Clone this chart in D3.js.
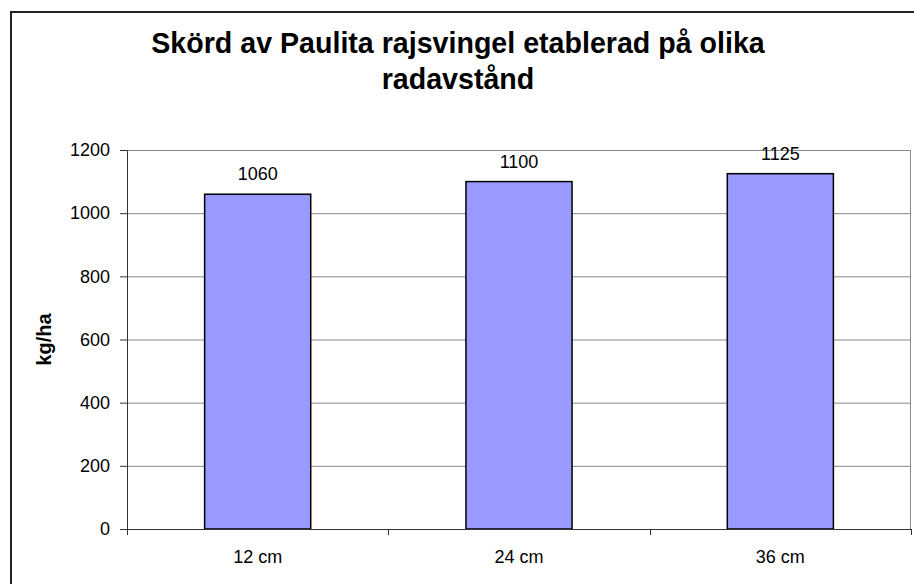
<!DOCTYPE html>
<html>
<head>
<meta charset="utf-8">
<script src="https://cdn.jsdelivr.net/npm/d3@7"></script>
<style>
  body { margin: 0; background: #fff; }
  svg { display: block; font-family: "Liberation Sans", Arial, sans-serif; }
</style>
</head>
<body>
<svg width="914" height="584"></svg>
<script>
// data
var categories = ["12 cm", "24 cm", "36 cm"];
var yieldValues = [1060, 1100, 1125];
var yTicks = [0, 200, 400, 600, 800, 1000, 1200];
var titleLines = ["Skörd av Paulita rajsvingel etablerad på olika", "radavstånd"];
var yTitle = "kg/ha";

var svg = d3.select("svg");
var margin = { top: 150, right: 3, bottom: 55, left: 127 };
var width = +svg.attr("width") - margin.left - margin.right;
var height = +svg.attr("height") - margin.top - margin.bottom;

// outer chart frame (runs off the right and bottom edge)
svg.append("rect")
    .attr("x", 11)
    .attr("y", 12)
    .attr("width", 1000)
    .attr("height", 1000)
    .attr("fill", "none")
    .attr("stroke", "#222")
    .attr("stroke-width", 2);

svg.append("text")
    .attr("x", 458)
    .attr("y", 53)
    .attr("text-anchor", "middle")
    .style("font-size", "28.6px")
    .style("font-weight", "bold")
    .selectAll("tspan")
    .data(titleLines)
    .enter().append("tspan")
    .attr("x", 458)
    .attr("dy", function (d, i) { return i == 0 ? 0 : 36; })
    .text(function (d) { return d; });

var x = d3.scaleBand()
    .range([0, width])
    .paddingInner(0.594)
    .paddingOuter(0.297)
    .domain(categories);

var y = d3.scaleLinear()
    .range([height, 0])
    .domain([0, 1200]);

var g = svg.append("g")
    .attr("transform", "translate(" + margin.left + "," + margin.top + ")");

// gridlines
g.selectAll("line.grid")
    .data(yTicks.slice(1))
    .enter().append("line")
    .attr("class", "grid")
    .attr("x1", 0)
    .attr("x2", width)
    .attr("y1", function (d) { return y(d) + 0.5; })
    .attr("y2", function (d) { return y(d) + 0.5; })
    .attr("stroke", "#888")
    .attr("stroke-width", 1);

// right edge of plot area
g.append("line")
    .attr("x1", width - 0.5)
    .attr("x2", width - 0.5)
    .attr("y1", y(1200))
    .attr("y2", height)
    .attr("stroke", "#888");

g.selectAll("rect.bar")
    .data(yieldValues)
    .enter().append("rect")
    .attr("class", "bar")
    .attr("x", function (d, i) { return x(categories[i]); })
    .attr("y", function (d) { return y(d); })
    .attr("width", x.bandwidth())
    .attr("height", function (d) { return height - y(d); })
    .attr("fill", "#9999ff")
    .attr("stroke", "#000")
    .attr("stroke-width", 1.5);

g.selectAll("text.val")
    .data(yieldValues)
    .enter().append("text")
    .attr("class", "val")
    .attr("x", function (d, i) { return x(categories[i]) + x.bandwidth() / 2; })
    .attr("y", function (d) { return y(d) - 14; })
    .attr("text-anchor", "middle")
    .style("font-size", "18px")
    .text(function (d) { return d; });

var yAxis = g.append("g")
    .attr("class", "axis axis-y")
    .call(d3.axisLeft(y).tickValues(yTicks).tickFormat(d3.format("d"))
        .tickSize(7).tickSizeOuter(0).tickPadding(10));
yAxis.select(".domain").attr("stroke", "#333");
yAxis.selectAll(".tick line").attr("stroke", "#333");
yAxis.selectAll("text").style("font-size", "18px").attr("fill", "#000");
yAxis.attr("font-family", null);

var xAxis = g.append("g")
    .attr("class", "axis axis-x")
    .attr("transform", "translate(0," + height + ")")
    .call(d3.axisBottom(x).tickSize(0).tickSizeOuter(0).tickPadding(21));
xAxis.select(".domain").attr("stroke", "#333");
xAxis.selectAll("text").style("font-size", "18px").attr("fill", "#000");
xAxis.attr("font-family", null);

// tick marks sit between the categories
var boundaries = categories.map(function (d) { return x(d) + x.bandwidth() / 2 - x.step() / 2; });
boundaries.push(width);
xAxis.selectAll("line.sep")
    .data(boundaries)
    .enter().append("line")
    .attr("class", "sep")
    .attr("x1", function (d) { return Math.round(d) + 0.5; })
    .attr("x2", function (d) { return Math.round(d) + 0.5; })
    .attr("y1", 0)
    .attr("y2", 6)
    .attr("stroke", "#333");

g.append("text")
    .attr("transform", "rotate(-90)")
    .attr("x", -height / 2)
    .attr("y", 51 - margin.left)
    .attr("text-anchor", "middle")
    .style("font-size", "20px")
    .style("font-weight", "bold")
    .text(yTitle);
</script>
</body>
</html>
